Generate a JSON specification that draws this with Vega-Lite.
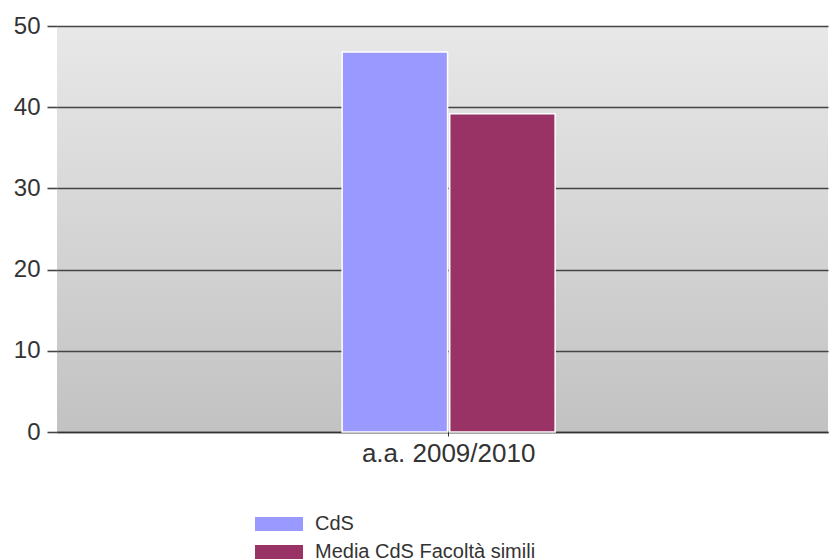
{
  "$schema": "https://vega.github.io/schema/vega-lite/v6.json",
  "width": 771,
  "height": 406,
  "autosize": {"type": "none"},
  "padding": {"left": 57, "top": 26, "right": 1, "bottom": 127},
  "background": "white",
  "view": {
    "stroke": null,
    "fill": {
      "gradient": "linear",
      "x1": 0, "y1": 0, "x2": 0, "y2": 1,
      "stops": [
        {"offset": 0, "color": "#e8e8e8"},
        {"offset": 1, "color": "#c2c2c2"}
      ]
    }
  },
  "data": {
    "values": [
      {"anno": "a.a. 2009/2010", "serie": "CdS", "valore": 46.8},
      {"anno": "a.a. 2009/2010", "serie": "Media CdS Facoltà simili", "valore": 39.2}
    ]
  },
  "mark": {"type": "bar", "stroke": "white", "strokeWidth": 1.5},
  "encoding": {
    "x": {
      "field": "anno",
      "type": "nominal",
      "scale": {"paddingInner": 0.2366, "paddingOuter": 1, "align": 0.511},
      "axis": {
        "title": null,
        "labelAngle": 0,
        "labelFont": "Liberation Sans",
        "labelFontSize": 26,
        "labelColor": "#333333",
        "labelPadding": 4,
        "tickSize": 4,
        "tickColor": "#333333",
        "domainColor": "#333333",
        "domainWidth": 1.6,
        "grid": false
      }
    },
    "xOffset": {
      "field": "serie",
      "type": "nominal",
      "scale": {"paddingInner": 0.02}
    },
    "y": {
      "field": "valore",
      "type": "quantitative",
      "scale": {"domain": [0, 50], "nice": false},
      "axis": {
        "title": null,
        "values": [0, 10, 20, 30, 40, 50],
        "domain": false,
        "tickSize": 10,
        "tickColor": "#444444",
        "tickWidth": 1.6,
        "labelFont": "Liberation Sans",
        "labelFontSize": 24,
        "labelColor": "#333333",
        "labelPadding": 7,
        "grid": true,
        "gridColor": "#444444",
        "gridWidth": 1.6,
        "gridOpacity": 1
      }
    },
    "color": {
      "field": "serie",
      "type": "nominal",
      "scale": {
        "domain": ["CdS", "Media CdS Facoltà simili"],
        "range": ["#9999ff", "#993366"]
      },
      "legend": {
        "title": null,
        "orient": "none",
        "legendX": 198,
        "legendY": 491,
        "symbolType": "M-1,-0.29H1V0.29H-1Z",
        "symbolSize": 2304,
        "symbolStrokeWidth": 0,
        "clipHeight": 14,
        "rowPadding": 8,
        "labelFont": "Liberation Sans",
        "labelFontSize": 20,
        "labelLimit": 400,
        "labelColor": "#333333",
        "labelOffset": 12
      }
    }
  }
}
